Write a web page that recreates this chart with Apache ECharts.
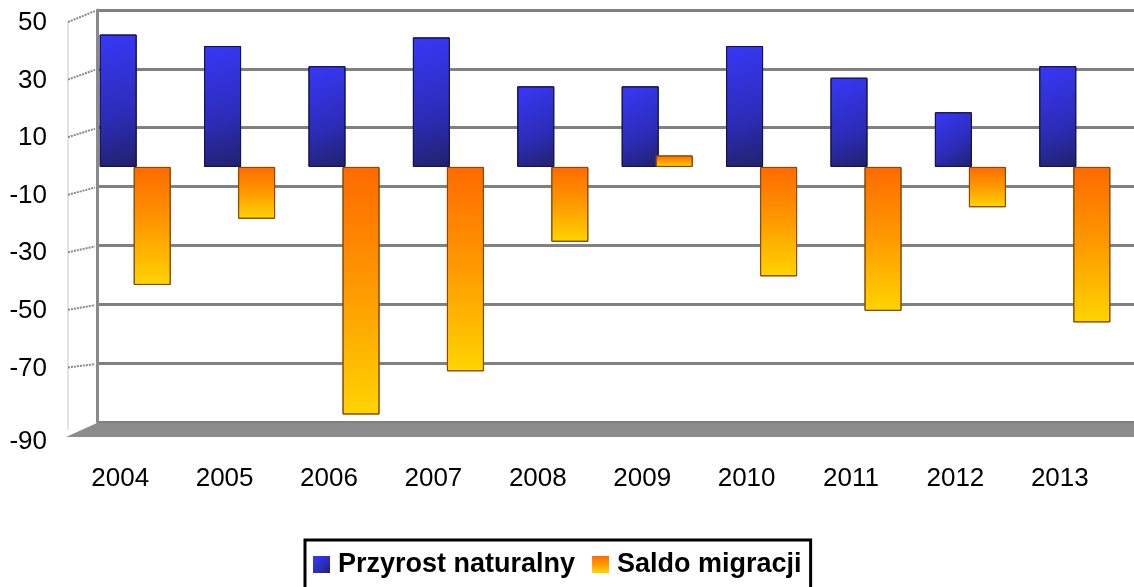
<!DOCTYPE html>
<html>
<head>
<meta charset="utf-8">
<script src="https://cdn.jsdelivr.net/npm/echarts@6/dist/echarts.min.js"></script>
<style>
  html, body { margin: 0; padding: 0; background: #fff; }
  #chart { width: 1134px; height: 587px; }
</style>
</head>
<body>
<div id="chart"></div>
<script>
// dane
const years = ['2004', '2005', '2006', '2007', '2008', '2009', '2010', '2011', '2012', '2013']
const przyrost = [46, 42, 35, 45, 28, 28, 42, 31, 19, 35]
const saldo = [-41, -18, -86, -71, -26, 4, -38, -50, -14, -54]
const yMin = -90
const yMax = 50
const yStep = 20

const chart = echarts.init(document.getElementById('chart'))
const font = 'Liberation Sans, Arial, sans-serif'

const blue = new echarts.graphic.LinearGradient(0, 0, 1, 1, [
    { offset: 0, color: '#3838f8' },
    { offset: 0.6, color: '#2c2cb8' },
    { offset: 1, color: '#20226a' }
])
const orange = new echarts.graphic.LinearGradient(0, 0, 0, 1, [
    { offset: 0, color: '#ff6a00' },
    { offset: 0.5, color: '#ff9a00' },
    { offset: 1, color: '#ffd400' }
])

const option = {
    animation: false,
    backgroundColor: '#fff',
    textStyle: { fontFamily: font },
    grid: [
        // tylna ściana
        { left: 97, right: 0, top: 10, bottom: 165 },
        // przednia płaszczyzna ze słupkami
        { left: 83, right: 7, top: 23, bottom: 161 }
    ],
    xAxis: [
        { gridIndex: 0, type: 'category', data: years, show: false },
        {
            gridIndex: 1,
            type: 'category',
            data: years,
            axisLine: { show: false },
            axisTick: { show: false },
            axisLabel: {
                fontSize: 26,
                color: '#000',
                margin: 40,
                padding: [0, 30, 0, 0]
            }
        }
    ],
    yAxis: [
        {
            gridIndex: 0,
            min: yMin, max: yMax, interval: yStep,
            axisLabel: { show: false },
            axisTick: { show: false },
            axisLine: { show: true, lineStyle: { color: '#8a8a8a', width: 3 } },
            splitLine: { lineStyle: { color: '#808080', width: 3 } }
        },
        {
            gridIndex: 1,
            min: yMin, max: yMax, interval: yStep,
            axisLine: { show: false },
            axisTick: { show: false },
            splitLine: { show: false },
            axisLabel: {
                fontSize: 26,
                color: '#000',
                margin: 36,
                formatter: v => v === yMin ? '{low|' + v + '}' : '' + v,
                rich: { low: { fontSize: 26, color: '#000', padding: [32, 0, 0, 0] } }
            }
        }
    ],
    legend: {
        top: 540,
        left: 305,
        padding: [11, 9, 12, 8],
        borderColor: '#000',
        borderWidth: 3,
        borderRadius: 0,
        itemWidth: 17,
        itemHeight: 17,
        itemGap: 17,
        icon: 'rect',
        itemStyle: { borderWidth: 0 },
        textStyle: { fontSize: 27, fontWeight: 'bold', color: '#000', fontFamily: font, padding: [0, 0, 0, 3] },
        data: ['Przyrost naturalny', 'Saldo migracji']
    },
    series: [
        {
            name: 'Przyrost naturalny',
            type: 'bar',
            xAxisIndex: 1,
            yAxisIndex: 1,
            barWidth: 37,
            barGap: '-8%',
            data: przyrost,
            itemStyle: { color: blue, borderColor: '#14144a', borderWidth: 1 }
        },
        {
            name: 'Saldo migracji',
            type: 'bar',
            xAxisIndex: 1,
            yAxisIndex: 1,
            barWidth: 37,
            data: saldo,
            itemStyle: { color: orange, borderColor: '#8a4a00', borderWidth: 1 }
        }
    ]
}
chart.setOption(option)

// podłoga i boczna ściana (dekoracja 3D)
const ticks = []
for (let v = yMin; v <= yMax; v += yStep) ticks.push(v)
const deco = [
    {
        type: 'polygon',
        shape: { points: [[66, 437], [97, 423], [1134, 423], [1134, 437]] },
        style: { fill: '#8c8c8c' },
        z: 5
    },
    {
        type: 'line',
        shape: { x1: 68, y1: 22, x2: 68, y2: 430 },
        style: { stroke: '#c8c8c8', lineWidth: 1 }
    }
]
ticks.forEach(v => {
    if (v === yMin) return
    const yf = chart.convertToPixel({ yAxisIndex: 1 }, v)
    const yw = chart.convertToPixel({ yAxisIndex: 0 }, v)
    deco.push({
        type: 'line',
        shape: { x1: 68, y1: yf - 1, x2: 95, y2: yw + 1 },
        style: { stroke: '#8a8a8a', lineWidth: 2, lineDash: [2, 1] }
    })
})
chart.setOption({ graphic: deco })
</script>
</body>
</html>
